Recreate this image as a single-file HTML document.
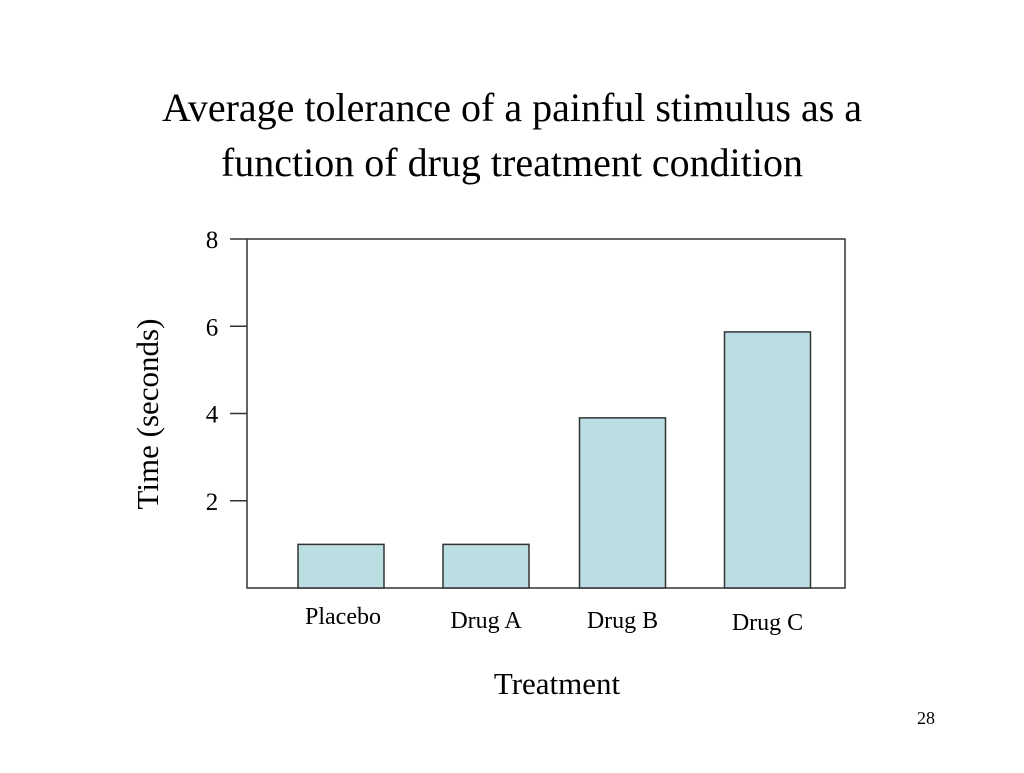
<!DOCTYPE html>
<html><head><meta charset="utf-8"><style>
body{margin:0;background:#fff;width:1024px;height:768px;overflow:hidden;font-family:"Liberation Serif",serif;}
</style></head><body>
<svg width="1024" height="768" xmlns="http://www.w3.org/2000/svg" font-family="Liberation Serif, serif">
<text x="512" y="121" font-size="40" text-anchor="middle">Average tolerance of a painful stimulus as a</text>
<text x="512" y="176" font-size="40" text-anchor="middle">function of drug treatment condition</text>
<rect x="247" y="239" width="598" height="349" fill="none" stroke="#333" stroke-width="1.5"/>
<g id="ticks"></g>
<g id="bars"></g>
<g id="xlabels"></g>
<text transform="translate(158,414) rotate(-90)" font-size="31" text-anchor="middle">Time (seconds)</text>
<text x="557" y="694" font-size="31" text-anchor="middle">Treatment</text>
<text x="926" y="724" font-size="18" text-anchor="middle">28</text>
</svg>
<script>
const categories = ["Placebo", "Drug A", "Drug B", "Drug C"];
const values = [1.0, 1.0, 3.9, 5.87];
const yTicks = [2, 4, 6, 8];
const NS = "http://www.w3.org/2000/svg";
const y = v => 588 - v * (349 / 8);
const barCenters = [341, 486, 622.5, 767.5];
const labelY = [624, 628, 628, 630];
const tg = document.getElementById("ticks");
yTicks.forEach(t => {
  const l = document.createElementNS(NS, "line");
  
  
  l.setAttribute("x1", 230); l.setAttribute("x2", 247);
  l.setAttribute("y1", y(t)); l.setAttribute("y2", y(t));
  l.setAttribute("stroke", "#333"); l.setAttribute("stroke-width", "1.5");
  tg.appendChild(l);
  const tx = document.createElementNS(NS, "text");
  
  
  tx.setAttribute("x", 212); tx.setAttribute("y", y(t) + 9);
  tx.setAttribute("font-size", "25"); tx.setAttribute("text-anchor", "middle");
  tx.textContent = t; tg.appendChild(tx);
});
const bg = document.getElementById("bars"), xg = document.getElementById("xlabels");
categories.forEach((c, i) => {
  const r = document.createElementNS(NS, "rect");
  
  
  r.setAttribute("x", barCenters[i] - 43); r.setAttribute("width", 86);
  r.setAttribute("y", y(values[i])); r.setAttribute("height", 588 - y(values[i]));
  r.setAttribute("fill", "#badee1"); r.setAttribute("stroke", "#333"); r.setAttribute("stroke-width", "1.5");
  bg.appendChild(r);
  const t = document.createElementNS(NS, "text");
  
  
  t.setAttribute("x", barCenters[i] + (i == 0 ? 2 : 0)); t.setAttribute("y", labelY[i]);
  t.setAttribute("font-size", "24"); t.setAttribute("text-anchor", "middle");
  t.textContent = c; xg.appendChild(t);
});
</script>
</body></html>
